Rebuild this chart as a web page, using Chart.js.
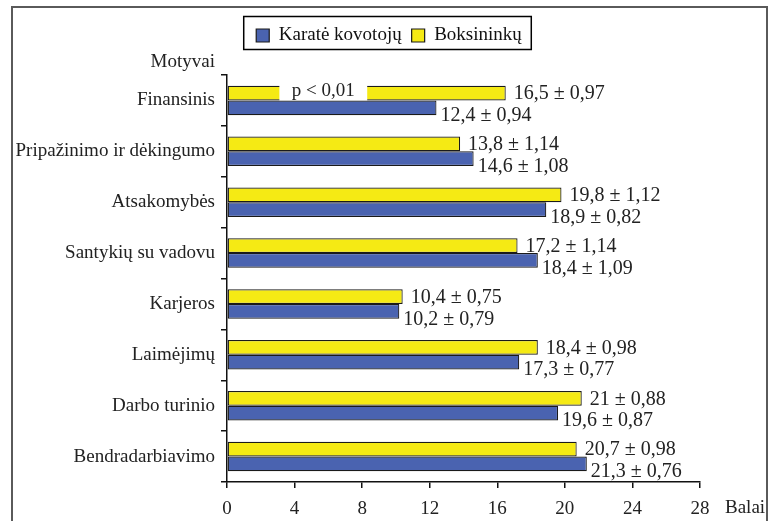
<!DOCTYPE html>
<html>
<head>
<meta charset="utf-8">
<script src="https://cdn.jsdelivr.net/npm/chart.js@4.4.1/dist/chart.umd.min.js"></script>
<style>
html,body{margin:0;padding:0;background:#fff;}
#wrap{width:768px;height:521px;position:relative;}
</style>
</head>
<body>
<div id="wrap"><canvas id="c" width="768" height="521"></canvas></div>
<script>
const categories = ["Finansinis","Pripažinimo ir dėkingumo","Atsakomybės","Santykių su vadovu","Karjeros","Laimėjimų","Darbo turinio","Bendradarbiavimo"];
const boksininku = [16.5, 13.8, 19.8, 17.2, 10.4, 18.4, 21, 20.7];
const boksininkuErr = [0.97, 1.14, 1.12, 1.14, 0.75, 0.98, 0.88, 0.98];
const karate = [12.4, 14.6, 18.9, 18.4, 10.2, 17.3, 19.6, 21.3];
const karateErr = [0.94, 1.08, 0.82, 1.09, 0.79, 0.77, 0.87, 0.76];
const xTicks = [0, 4, 8, 12, 16, 20, 24, 28];
const seriesNames = ["Boksininkų", "Karatė kovotojų"];

const FONT = "'Liberation Serif', 'Times New Roman', serif";
const fmt = v => String(v).replace('.', ',');

const decor = {
  id: 'decor',
  afterLayout(chart) {
    // center the legend over the same region as the reference
    if (chart.legend) { chart.legend.left = 78; }
  },
  afterDraw(chart) {
    const ctx = chart.ctx;
    ctx.save();
    // outer frame
    ctx.strokeStyle = '#5a5a5a';
    ctx.lineWidth = 2;
    ctx.beginPath();
    ctx.moveTo(12, 530); ctx.lineTo(12, 7); ctx.lineTo(767, 7); ctx.lineTo(767, 530);
    ctx.stroke();
    // legend frame
    const lg = chart.legend;
    if (lg && lg.legendHitBoxes && lg.legendHitBoxes.length) {
      let l = Infinity, r = -Infinity;
      lg.legendHitBoxes.forEach(h => { l = Math.min(l, h.left); r = Math.max(r, h.left + h.width); });
      ctx.strokeStyle = '#000';
      ctx.lineWidth = 1.5;
      ctx.strokeRect(l - 12.5, 16.5, (r - l) + 22, 33);
    }
    // value labels
    ctx.font = '20px ' + FONT;
    ctx.fillStyle = '#222';
    ctx.textAlign = 'left';
    ctx.textBaseline = 'middle';
    const errs = [boksininkuErr, karateErr];
    const offY = [1, 8];
    const offX = [8, 4];
    chart.data.datasets.forEach((ds, di) => {
      const meta = chart.getDatasetMeta(di);
      meta.data.forEach((bar, i) => {
        ctx.fillText(fmt(ds.data[i]) + ' ± ' + fmt(errs[di][i]), bar.x + offX[di], bar.y + offY[di]);
      });
    });
    // p < 0,01 annotation on first yellow bar
    const b0 = chart.getDatasetMeta(0).data[0];
    const xs = chart.scales.x;
    const px1 = xs.getPixelForValue(3.1), px2 = xs.getPixelForValue(8.3);
    ctx.fillStyle = '#fff';
    ctx.fillRect(px1, b0.y - b0.height / 2 - 1, px2 - px1, b0.height + 1);
    ctx.fillStyle = '#222';
    ctx.textAlign = 'center';
    ctx.font = '19px ' + FONT;
    ctx.fillText('p < 0,01', (px1 + px2) / 2, b0.y - 2);
    // axis captions
    ctx.textAlign = 'right';
    ctx.fillText('Motyvai', 215, 62);
    ctx.textAlign = 'left';
    ctx.fillText('Balai', 725, 508);
    ctx.restore();
  }
};

new Chart(document.getElementById('c'), {
  type: 'bar',
  data: {
    labels: categories,
    datasets: [
      { label: seriesNames[0], data: boksininku, xAxisID: 'x', yAxisID: 'y', backgroundColor: '#f5ea14', borderColor: '#1a1a1a', borderWidth: 1.2, borderSkipped: false },
      { label: seriesNames[1], data: karate, xAxisID: 'x', yAxisID: 'y', backgroundColor: '#4a63b0', borderColor: '#1a1a1a', borderWidth: 1.2, borderSkipped: false }
    ]
  },
  options: {
    indexAxis: 'y',
    responsive: false,
    animation: false,
    devicePixelRatio: 1,
    layout: { padding: { top: 16, left: 0, right: 68, bottom: 0 } },
    datasets: { bar: { categoryPercentage: 0.58, barPercentage: 1.0 } },
    plugins: {
      legend: {
        reverse: true,
        position: 'top',
        labels: {
          font: { family: FONT, size: 19 },
          color: '#111',
          boxWidth: 13,
          boxHeight: 13,
          padding: 10,
          useBorderRadius: false
        }
      },
      tooltip: { enabled: false }
    },
    scales: {
      x: {
        type: 'linear', position: 'bottom', min: 0, max: 28,
        afterBuildTicks(s) { s.ticks = xTicks.map(v => ({ value: v })); },
        grid: { display: true, drawOnChartArea: false, drawTicks: true, tickLength: 6, color: '#111', lineWidth: 1.5 },
        border: { display: true, color: '#111', width: 1.5 },
        ticks: { font: { family: FONT, size: 19 }, color: '#222', padding: 10, callback: v => fmt(v) },
        afterFit(s) { s.height = 39; }
      },
      spacer: {
        type: 'linear', position: 'top', display: true,
        grid: { display: false, drawTicks: false }, border: { display: false },
        ticks: { display: false },
        afterFit(s) { s.height = 20; }
      },
      y: {
        offset: true,
        grid: { display: true, drawOnChartArea: false, drawTicks: true, tickLength: 6, color: '#111', lineWidth: 1.5, offset: true },
        border: { display: true, color: '#111', width: 1.5 },
        ticks: { font: { family: FONT, size: 19 }, color: '#222', padding: 6, autoSkip: false },
        afterFit(s) { s.width = 227; }
      }
    }
  },
  plugins: [decor]
});
</script>
</body>
</html>
